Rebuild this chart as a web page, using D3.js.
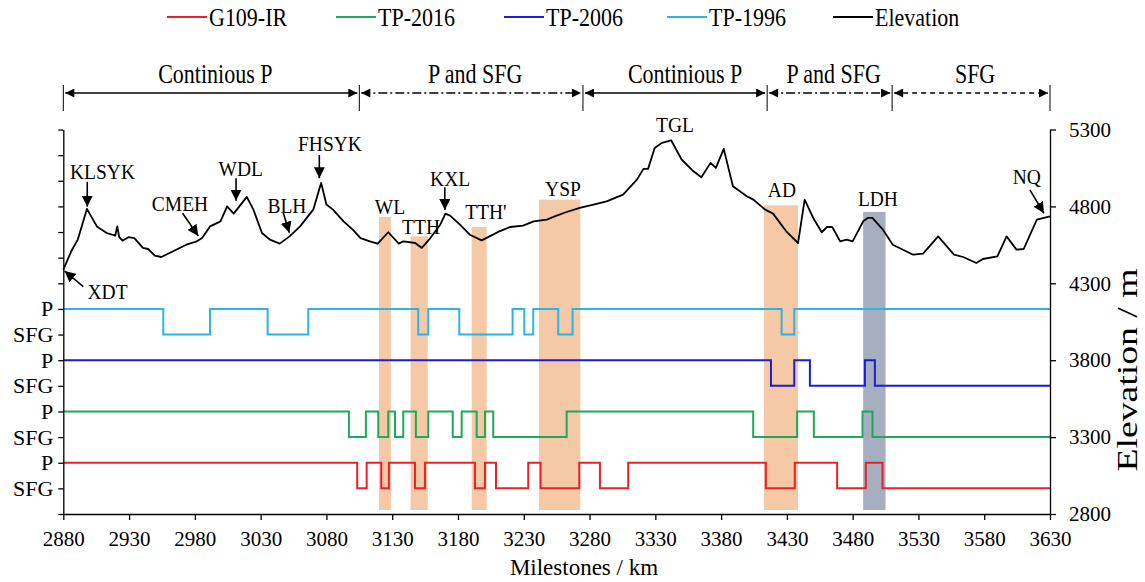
<!DOCTYPE html>
<html>
<head>
<meta charset="utf-8">
<script src="https://cdn.jsdelivr.net/npm/d3@7"></script>
<style>
  body { margin: 0; background: #fff; }
  text { font-family: "Liberation Serif", "Times New Roman", serif; fill: #000; }
</style>
</head>
<body>
<div id="chart"></div>
<script>
// elevation profile [km, m]
var elevation = [
  [2880,4388],[2886,4508],[2891,4584],[2898,4784],[2905.5,4670],[2913,4627],[2919.5,4610],
  [2921,4670],[2922.5,4600],[2925,4577],[2929.5,4600],[2934,4594],[2940.5,4530],[2944.5,4523],
  [2949.5,4480],[2954.5,4471],[2963.5,4508],[2973.5,4551],[2981.5,4573],[2985.5,4594],
  [2991.5,4670],[2999.5,4703],[3004.5,4800],[3009.5,4753],[3019.5,4862],[3024.5,4779],
  [3031,4627],[3037,4584],[3044.5,4558],[3052,4605],[3060,4670],[3070,4779],[3076,4953],
  [3080,4812],[3085,4779],[3093,4703],[3100,4649],[3106,4594],[3113,4573],[3119,4558],
  [3127,4632],[3135,4558],[3138.5,4573],[3147.5,4562],[3152.5,4530],[3159,4594],[3166.5,4681],
  [3170.5,4753],[3174,4740],[3181.5,4681],[3189,4616],[3198,4579],[3204,4605],[3211.5,4638],
  [3219.5,4666],[3229.5,4675],[3237.5,4703],[3247.5,4714],[3255,4740],[3262,4762],[3272.5,4790],
  [3283,4812],[3293,4833],[3305.5,4877],[3316,4974],[3321,5044],[3324.5,5044],[3329.5,5180],
  [3335,5213],[3342,5230],[3350,5105],[3359,5028],[3365,4989],[3372,5083],[3376,5050],
  [3382,5174],[3389,4931],[3399.5,4866],[3404.5,4844],[3413.5,4779],[3419.5,4753],[3429.5,4638],
  [3438.5,4562],[3443.5,4844],[3450,4725],[3456.5,4632],[3460.5,4666],[3464.5,4666],[3470.5,4573],
  [3475.5,4584],[3480,4573],[3488,4703],[3491.5,4725],[3495,4725],[3503,4649],[3510.5,4551],
  [3526,4486],[3533.5,4493],[3545,4605],[3557,4486],[3564,4471],[3574,4432],[3579,4458],
  [3590,4475],[3597,4605],[3604.5,4519],[3610,4523],[3620,4714],[3630,4735]
];

// P / SFG state changes [km, state]
var tp1996 = [[2880,'P'],[2956,'SFG'],[2991.5,'P'],[3035.3,'SFG'],[3066.2,'P'],[3149.8,'SFG'],
  [3157.4,'P'],[3181,'SFG'],[3221.5,'P'],[3230.4,'SFG'],[3237.2,'P'],[3256.2,'SFG'],[3267.1,'P'],
  [3426,'SFG'],[3435.6,'P']];
var tp2006 = [[2880,'P'],[3417.9,'SFG'],[3435.6,'P'],[3447.5,'SFG'],[3489.3,'P'],[3496.9,'SFG']];
var tp2016 = [[2880,'P'],[3097.1,'SFG'],[3110,'P'],[3119.4,'SFG'],[3127,'P'],[3132.1,'SFG'],
  [3138.4,'P'],[3148,'SFG'],[3157.4,'P'],[3176,'SFG'],[3182.8,'P'],[3194.2,'SFG'],[3200.5,'P'],
  [3206.8,'SFG'],[3262.6,'P'],[3404.4,'SFG'],[3437.8,'P'],[3450.5,'SFG'],[3487.5,'P'],[3495.1,'SFG']];
var g109 = [[2880,'P'],[3103.4,'SFG'],[3110.6,'P'],[3121.7,'SFG'],[3127.5,'P'],[3147.3,'SFG'],
  [3154.9,'P'],[3192.9,'SFG'],[3200.5,'P'],[3208.9,'SFG'],[3233.4,'P'],[3242.8,'SFG'],[3272.2,'P'],
  [3287.9,'SFG'],[3309.4,'P'],[3414,'SFG'],[3436,'P'],[3468.2,'SFG'],[3490,'P'],[3502.7,'SFG']];

var seriesNames = ['G109-IR', 'TP-2016', 'TP-2006', 'TP-1996', 'Elevation'];
var seriesColors = ['#e8222b', '#1fa85a', '#1c1cd6', '#2cb4e4', '#000'];

// shaded sections [start km, end km, top m, kind]
var bands = [[3120,3129,4731,'a'],[3144,3157,4605,'a'],[3190.4,3201.8,4666,'a'],
  [3241.5,3273,4844,'a'],[3412.5,3438.5,4807,'a'],[3488,3505,4764,'b']];
var bandBase = 2826;

// place names [text, km, m, arrow from km, m, arrow to km, m]
var places = [
  ['XDT', 2913.6, 4245, 2895.2, 4278, 2881, 4380],
  ['KLSYK', 2909.8, 5026, 2898.2, 4960, 2898.2, 4798],
  ['CMEH', 2968.7, 4820, 2970.7, 4755, 2982.6, 4608],
  ['WDL', 3014.9, 5048, 3011.3, 4983, 3011.3, 4837],
  ['BLH', 3050, 4809, 3047.2, 4759, 3051.8, 4629],
  ['FHSYK', 3082.7, 5210, 3074.6, 5134, 3074.6, 4983],
  ['WL', 3128.3, 4798],
  ['TTH', 3151.9, 4668],
  ['KXL', 3174, 4983, 3170, 4924, 3170, 4776],
  ["TTH'", 3201.2, 4766],
  ['YSP', 3259.8, 4918],
  ['TGL', 3344.9, 5330],
  ['AD', 3426.2, 4907],
  ['LDH', 3499.2, 4853],
  ['NQ', 3612.4, 4993, 3614.7, 4907, 3625.4, 4755]
];

var regionNames = ['Continious P', 'P and SFG', 'Continious P', 'P and SFG', 'SFG'];
var regionKinds = ['cont', 'mix', 'cont', 'mix', 'sfg'];
var regionBreaks = [2880, 3105, 3275, 3415, 3510, 3630];

var xTicks = d3.range(2880, 3631, 50);
var elevTicks = [2800, 3300, 3800, 4300, 4800, 5300];
var rowLabels = ['', 'SFG', 'P', 'SFG', 'P', 'SFG', 'P', 'SFG', 'P'];

var W = 1145, H = 582;
var pLeft = 63.3, pRight = 1050, pTop = 129.5, pBottom = 514;

var svg = d3.select('#chart').append('svg')
  .attr('width', W).attr('height', H);

var x = d3.scaleLinear().domain([2880, 3630]).range([pLeft, pRight]);
var yE = d3.scaleLinear().domain([2800, 5300]).range([pBottom, pTop]);
var yRow = d3.scaleLinear().domain([0, 15]).range([pBottom, pTop]);

var defs = svg.append('defs');
defs.append('marker').attr('id', 'head')
  .attr('viewBox', '0 0 10 10').attr('refX', 10).attr('refY', 5)
  .attr('markerUnits', 'userSpaceOnUse').attr('markerWidth', 11).attr('markerHeight', 11)
  .attr('orient', 'auto-start-reverse')
  .append('path').attr('d', 'M0,0L10,5L0,10z').attr('fill', '#000');
defs.append('marker').attr('id', 'rhead')
  .attr('viewBox', '0 0 10 10').attr('refX', 10).attr('refY', 5)
  .attr('markerUnits', 'userSpaceOnUse').attr('markerWidth', 10).attr('markerHeight', 9)
  .attr('orient', 'auto-start-reverse')
  .append('path').attr('d', 'M0,0L10,5L0,10z').attr('fill', '#000');

// shaded bands
svg.append('g').selectAll('rect').data(bands).enter().append('rect')
  .attr('x', d => x(d[0]))
  .attr('width', d => x(d[1]) - x(d[0]))
  .attr('y', d => yE(d[2]))
  .attr('height', d => yE(bandBase) - yE(d[2]))
  .attr('fill', d => d[3] == 'a' ? '#f5c9a6' : '#a5afbf');

// step lines
var steps = [[g109, 1, seriesColors[0]], [tp2016, 3, seriesColors[1]],
             [tp2006, 5, seriesColors[2]], [tp1996, 7, seriesColors[3]]];
steps.forEach(function(s) {
  var pts = s[0].concat([[3630, s[0][s[0].length - 1][1]]]);
  var line = d3.line()
    .x(d => x(d[0]))
    .y(d => yRow(s[1] + (d[1] == 'P' ? 1 : 0)))
    .curve(d3.curveStepAfter);
  svg.append('path').datum(pts)
    .attr('fill', 'none').attr('stroke', s[2]).attr('stroke-width', 2)
    .attr('d', line);
});

// elevation
var eline = d3.line().x(d => x(d[0])).y(d => yE(d[1]));
svg.append('path').datum(elevation)
  .attr('fill', 'none').attr('stroke', '#000').attr('stroke-width', 1.8)
  .attr('stroke-linejoin', 'round')
  .attr('d', eline);

// axes
var gx = svg.append('g').attr('transform', 'translate(0,' + pBottom + ')')
  .call(d3.axisBottom(x).tickValues(xTicks).tickSize(6).tickSizeOuter(0).tickFormat(d3.format('d')));
gx.selectAll('text').attr('y', 17).style('font-size', '21px');

var gl = svg.append('g').attr('transform', 'translate(' + pLeft + ',0)')
  .call(d3.axisLeft(yRow).tickValues(d3.range(0, 16)).tickSize(5).tickSizeOuter(0)
    .tickFormat(i => rowLabels[i] || ''));
gl.selectAll('text').attr('x', -10).style('font-size', '22px');

var gr = svg.append('g').attr('transform', 'translate(' + pRight + ',0)')
  .call(d3.axisRight(yE).tickValues(elevTicks).tickSize(6).tickSizeOuter(0).tickFormat(d3.format('d')));
gr.selectAll('text').attr('x', 19).style('font-size', '21px');

svg.selectAll('.domain, .tick line').attr('stroke', '#000').attr('stroke-width', 1.3);
svg.selectAll('.tick text').style('font-family', '"Liberation Serif", serif').attr('fill', '#000');

svg.append('text').attr('x', 584).attr('y', 567).attr('dy', '0.35em')
  .attr('text-anchor', 'middle').style('font-size', '23px').text('Milestones / km');
svg.append('text').attr('transform', 'translate(1127,370) rotate(-90) scale(1.3,1)')
  .attr('text-anchor', 'middle').attr('dy', '0.35em').style('font-size', '29px')
  .text('Elevation / m');

// place annotations
var pg = svg.append('g');
places.forEach(function(p) {
  pg.append('text')
    .attr('transform', 'translate(' + x(p[1]) + ',' + yE(p[2]) + ') scale(1,1.1)')
    .attr('dy', '0.35em')
    .attr('text-anchor', 'middle').style('font-size', '19.5px').text(p[0]);
  if (p.length > 3) {
    pg.append('line')
      .attr('x1', x(p[3])).attr('y1', yE(p[4]))
      .attr('x2', x(p[5])).attr('y2', yE(p[6]))
      .attr('stroke', '#000').attr('stroke-width', 1.6)
      .attr('marker-end', 'url(#head)');
  }
});

// section arrows on top
var dashes = {cont: null, mix: '9,3,2,3', sfg: '5,4'};
var rg = svg.append('g');
var ay = 93;
regionBreaks.forEach(function(b) {
  rg.append('line').attr('x1', x(b)).attr('x2', x(b)).attr('y1', 85).attr('y2', 111)
    .attr('stroke', '#000').attr('stroke-width', 1);
});
regionNames.forEach(function(n, i) {
  var a = x(regionBreaks[i]) + 2, b = x(regionBreaks[i + 1]) - 2;
  rg.append('line').attr('x1', a).attr('x2', b).attr('y1', ay).attr('y2', ay)
    .attr('stroke', '#000').attr('stroke-width', 1.4)
    .attr('stroke-dasharray', dashes[regionKinds[i]])
    .attr('marker-start', 'url(#rhead)').attr('marker-end', 'url(#rhead)');
  rg.append('text')
    .attr('transform', 'translate(' + ((a + b) / 2 + (i == 2 ? 10 : 4)) + ',73) scale(1,1.25)')
    .attr('dy', '0.35em')
    .attr('text-anchor', 'middle').style('font-size', '22px').text(n);
});

// legend
var legX = [167, 336, 504, 667, 833];
var lg = svg.append('g');
seriesNames.forEach(function(n, i) {
  lg.append('line').attr('x1', legX[i]).attr('x2', legX[i] + 40).attr('y1', 17).attr('y2', 17)
    .attr('stroke', seriesColors[i]).attr('stroke-width', 2);
  lg.append('text')
    .attr('transform', 'translate(' + (legX[i] + 42) + ',17) scale(1,1.12)')
    .attr('dy', '0.35em')
    .style('font-size', '22px').text(n);
});
</script>
</body>
</html>
